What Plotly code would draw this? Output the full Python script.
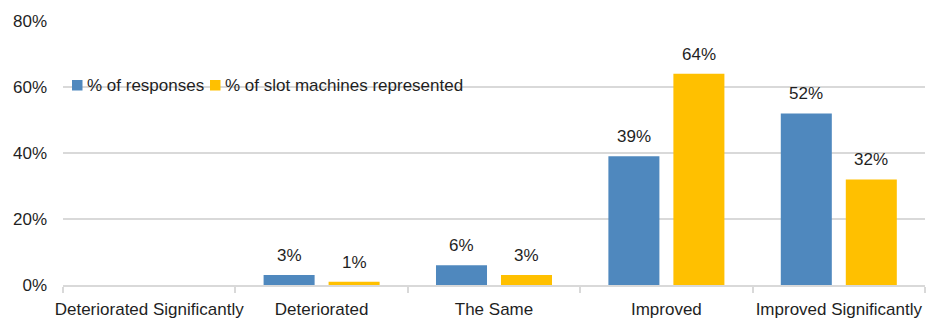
import plotly.graph_objects as go

categories = ["Deteriorated Significantly", "Deteriorated", "The Same", "Improved", "Improved Significantly"]
responses = [0, 3, 6, 39, 52]
slot_machines = [0, 1, 3, 64, 32]
series_names = ["% of responses", "% of slot machines represented"]
y_ticks = [0, 20, 40, 60, 80]
y_tick_labels = ["0%", "20%", "40%", "60%", "80%"]

BLUE = "#4F88BE"
GOLD = "#FFC000"
TEXT = "#1f1f1f"
FONT = "Liberation Sans, Arial, sans-serif"
FS = 17

fig = go.Figure()
fig.add_trace(go.Bar(x=categories, y=responses, name=series_names[0],
                     marker=dict(color=BLUE, line=dict(width=0))))
fig.add_trace(go.Bar(x=categories, y=slot_machines, name=series_names[1],
                     marker=dict(color=GOLD, line=dict(width=0))))

# value labels above each bar (skip the empty first category)
annotations = []
for series, shift in ((responses, -32.5), (slot_machines, 32.5)):
    for cat, val in zip(categories, series):
        if val == 0:
            continue
        annotations.append(dict(x=cat, y=val, xref="x", yref="y", text=f"{val}%",
                                showarrow=False, xshift=shift, yshift=8,
                                yanchor="bottom", font=dict(size=FS, color=TEXT, family=FONT)))

# legend built inside the plot area, left side at the 60% line
PLOT_W, PLOT_H = 862, 264
def px_x(p):
    return (p - 63) / PLOT_W
def px_y(p):
    return (285 - p) / PLOT_H

shapes = [
    dict(type="rect", xref="paper", yref="paper", x0=px_x(72), x1=px_x(82.5),
         y0=px_y(90.5), y1=px_y(80), fillcolor=BLUE, line=dict(width=0)),
    dict(type="rect", xref="paper", yref="paper", x0=px_x(210), x1=px_x(220.5),
         y0=px_y(90.5), y1=px_y(80), fillcolor=GOLD, line=dict(width=0)),
]
annotations.append(dict(x=px_x(85), y=px_y(85), xref="paper", yref="paper", text=series_names[0],
                        showarrow=False, xanchor="left", yanchor="middle",
                        font=dict(size=FS, color=TEXT, family=FONT)))
annotations.append(dict(x=px_x(223), y=px_y(85), xref="paper", yref="paper", text=series_names[1],
                        showarrow=False, xanchor="left", yanchor="middle",
                        font=dict(size=FS, color=TEXT, family=FONT)))

fig.update_layout(
    width=933, height=322,
    margin=dict(l=63, r=8, t=21, b=37),
    paper_bgcolor="white", plot_bgcolor="white",
    barmode="group", bargap=0.246, bargroupgap=0.215,
    showlegend=False,
    font=dict(family=FONT, size=FS, color=TEXT),
    annotations=annotations, shapes=shapes,
    xaxis=dict(type="category", showline=True, linecolor="#d9d9d9", linewidth=1.5,
               ticks="outside", tickson="boundaries", ticklen=6, tickcolor="#d9d9d9",
               tickwidth=1.5, showgrid=False, tickangle=0, automargin=False,
               ticklabelstandoff=8,
               tickfont=dict(size=FS, color=TEXT, family=FONT)),
    yaxis=dict(range=[0, 80], tickvals=y_ticks, ticktext=y_tick_labels,
               showgrid=True, gridcolor="#d9d9d9", gridwidth=1.5, zeroline=False,
               showline=False, ticks="", ticklabelstandoff=15, automargin=False,
               tickfont=dict(size=FS, color=TEXT, family=FONT)),
)

fig.write_html("out.html")
